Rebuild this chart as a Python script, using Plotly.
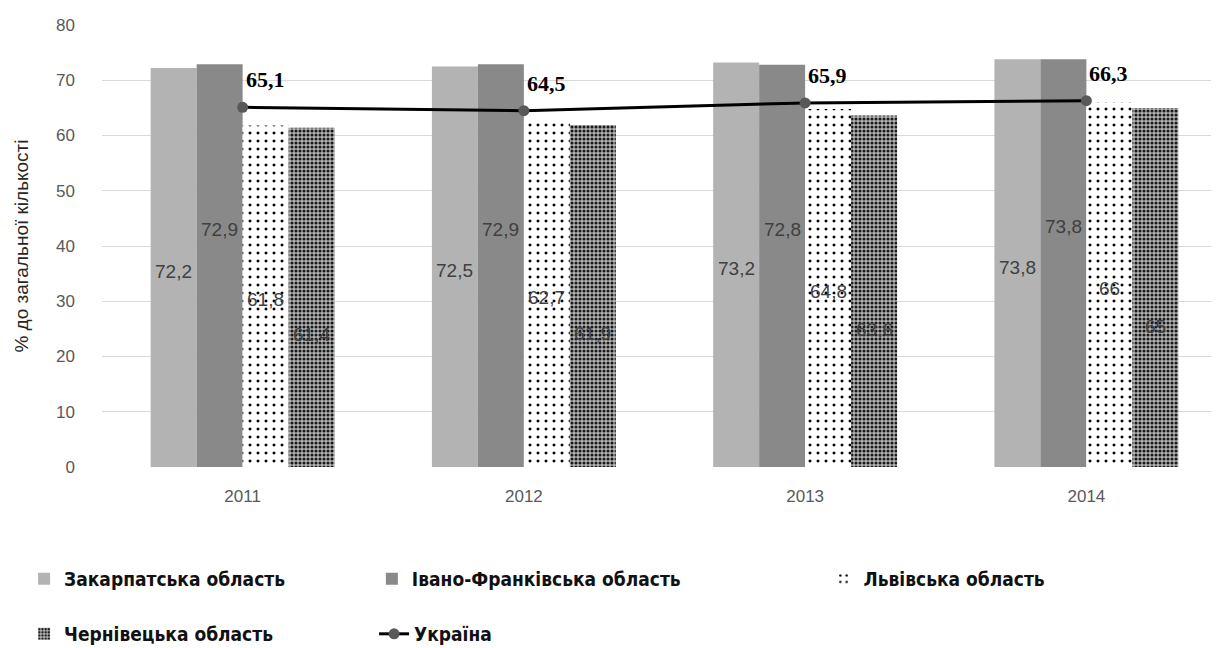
import plotly.graph_objects as go

years = ["2011", "2012", "2013", "2014"]
zakarpattia = [72.2, 72.5, 73.2, 73.8]
ivano = [72.9, 72.9, 72.8, 73.8]
lviv = [61.8, 62.7, 64.8, 66.0]
chernivtsi = [61.4, 61.9, 63.6, 65.0]
ukraine = [65.1, 64.5, 65.9, 66.3]

names = ["Закарпатська область", "Івано-Франківська область", "Львівська область",
         "Чернівецька область", "Україна"]
y_ticks = [0, 10, 20, 30, 40, 50, 60, 70, 80]
y_title = "% до загальної кількості"


def fmt(v):
    return f"{v:g}".replace(".", ",")


BARGAP = 0.346
bar_series = [zakarpattia, ivano, lviv, chernivtsi]
markers = [
    dict(color="#b3b3b3"),
    dict(color="#898989"),
    dict(color="white", pattern=dict(shape=".", bgcolor="white", fgcolor="black",
                                      size=8, solidity=0.11, fillmode="replace")),
    dict(color="#bbbbbb", pattern=dict(shape=".", bgcolor="#b5b5b5", fgcolor="#1a1a1a",
                                        size=4, solidity=0.47, fillmode="replace")),
]
legend_ids = ["legend", "legend2", "legend3", "legend4", "legend5"]
# relative height of the value label inside each bar (fraction of bar height)
label_frac = [0.49, 0.59, 0.49, 0.39]

fig = go.Figure()
for k, (vals, mk) in enumerate(zip(bar_series, markers)):
    fig.add_trace(go.Bar(
        x=years, y=vals, name=names[k], marker=dict(line=dict(width=0), **mk),
        legend=legend_ids[k], hoverinfo="skip",
    ))

fig.add_trace(go.Scatter(
    x=years, y=ukraine, name=names[4], mode="lines+markers",
    line=dict(color="black", width=3),
    marker=dict(color="#595959", size=11),
    legend=legend_ids[4],
))

bar_w = (1 - BARGAP) / 4
annotations = []
for k, vals in enumerate(bar_series):
    for i, v in enumerate(vals):
        annotations.append(dict(
            x=i + (k - 1.5) * bar_w, y=v * label_frac[k], xref="x", yref="y",
            text=fmt(v), showarrow=False,
            font=dict(family="Liberation Sans", size=19, color="#404040"),
        ))
for i, v in enumerate(ukraine):
    annotations.append(dict(
        x=i, y=v, xref="x", yref="y", text=fmt(v), showarrow=False,
        xanchor="left", yanchor="bottom", xshift=1, yshift=13,
        font=dict(family="Liberation Serif", size=22, color="black", weight="bold"),
    ))

legend_font = dict(family="DejaVu Sans Condensed, Noto Sans", size=19, color="#111111",
                   weight="bold")
leg_pos = [(0.0132, 0.119), (0.2985, 0.119), (0.669, 0.119), (0.0132, 0.034), (0.3003, 0.034)]
legend_layout = {}
for lid, (lx, ly) in zip(legend_ids, leg_pos):
    legend_layout[lid] = dict(x=lx, y=ly, xref="container", yref="container",
                              xanchor="left", yanchor="middle",
                              orientation="h", font=legend_font,
                              bgcolor="rgba(0,0,0,0)", itemwidth=30)

fig.update_layout(
    width=1219, height=648,
    margin=dict(l=94, r=0, t=17, b=189, autoexpand=False),
    paper_bgcolor="white", plot_bgcolor="white",
    barmode="group", bargap=BARGAP, bargroupgap=0,
    showlegend=True,
    annotations=annotations,
    **legend_layout,
)
fig.update_xaxes(
    type="category", tickfont=dict(family="Liberation Sans", size=17, color="#595959"),
    showgrid=False, showline=False, ticks="", ticklabelstandoff=17, automargin=False,
)
fig.update_yaxes(
    range=[0, 80], tickvals=y_ticks, showgrid=True, gridcolor="#d9d9d9", gridwidth=1,
    zeroline=False, showline=False, automargin=False,
    tickfont=dict(family="Liberation Sans", size=17, color="#595959"),
    ticklabelstandoff=26,
    title=dict(text=y_title, font=dict(family="Liberation Sans", size=19, color="#262626"),
               standoff=22),
)

fig.write_html("out.html")
